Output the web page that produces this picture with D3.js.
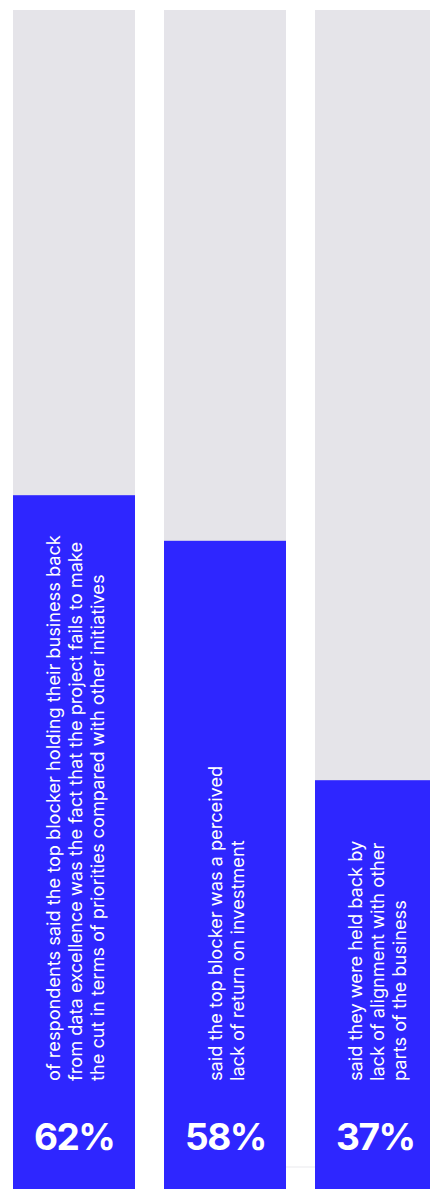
<!DOCTYPE html>
<html>
<head>
<meta charset="utf-8">
<script src="https://cdn.jsdelivr.net/npm/d3@7/dist/d3.min.js"></script>
<style>
  html, body { margin: 0; padding: 0; background: #ffffff; overflow: hidden; }
  svg { display: block; }
  .note { font-family: Inter, "Noto Sans", sans-serif; font-size: 18.2px; fill: #ffffff; }
  .pct { font-family: Inter, "Noto Sans", sans-serif; font-size: 37px; font-weight: 700; letter-spacing: -1.5px; fill: #ffffff; }
</style>
</head>
<body>
<svg id="chart"></svg>
<script>
// Survey blockers: share of respondents per answer
const categories = ["priorities", "roi", "alignment"];
const values = [62, 58, 37];
const valueLabels = ["62%", "58%", "37%"];
const captions = [
  ["of respondents said the top blocker holding their business back",
   "from data excellence was the fact that the project fails to make",
   "the cut in terms of priorities compared with other initiatives"],
  ["said the top blocker was a perceived",
   "lack of return on investment"],
  ["said they were held back by",
   "lack of alignment with other",
   "parts of the business"]
];

const width = 430, height = 1189;
const trackTop = 10, baseY = 1202;
const blue = "#2e26ff", track = "#e5e4e9";

const svg = d3.select("#chart").attr("width", width).attr("height", height);

const x = d3.scaleBand()
  .domain(categories)
  .range([13, 437])
  .paddingInner(29 / 151)
  .paddingOuter(0);

const y = d3.scaleLinear().domain([0, 100]).range([baseY, 62]);

const data = categories.map((c, i) => ({ c, v: values[i], label: valueLabels[i], lines: captions[i] }));

// faint rule running under the last column
svg.append("rect")
  .attr("x", x(categories[1]) + x.bandwidth())
  .attr("y", 1166)
  .attr("width", x(categories[2]) - x(categories[1]) - x.bandwidth())
  .attr("height", 2)
  .attr("fill", "#f4f4f6");

const g = svg.selectAll("g.col").data(data).join("g").attr("class", "col");

// grey track
g.append("rect")
  .attr("x", d => x(d.c))
  .attr("y", trackTop)
  .attr("width", x.bandwidth())
  .attr("height", baseY - trackTop)
  .attr("fill", track);

// value bar
g.append("rect")
  .attr("x", d => x(d.c))
  .attr("y", d => y(d.v))
  .attr("width", x.bandwidth())
  .attr("height", d => baseY - y(d.v))
  .attr("fill", blue);

// rotated caption, block centred across the column
const lineH = 22;
const textStartY = 1081;
g.each(function(d) {
  const n = d.lines.length;
  const centre = x(d.c) + 68.5;
  const firstBase = centre - (n - 1) * lineH / 2;
  const t = d3.select(this).append("text")
    .attr("class", "note")
    .attr("transform", `translate(0,${textStartY}) rotate(-90)`);
  d.lines.forEach((line, k) => {
    t.append("tspan")
      .attr("x", 0)
      .attr("y", firstBase + k * lineH)
      .text(line);
  });
});

// percentage label
g.append("text")
  .attr("class", "pct")
  .attr("x", d => x(d.c) + 21)
  .attr("y", 1150)
  .text(d => d.label);
</script>
</body>
</html>
